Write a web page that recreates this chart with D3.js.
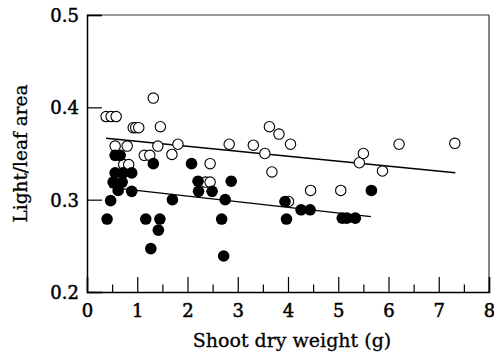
<!DOCTYPE html>
<html><head><meta charset="utf-8">
<script src="https://cdn.jsdelivr.net/npm/d3@7/dist/d3.min.js"></script>
<style>body{margin:0;background:#fff}svg{display:block}</style>
</head><body>
<script>
// Open circles (upper group)
const openX = [0.38,0.48,0.58,1.32,0.92,0.97,1.03,1.46,0.56,0.80,1.41,1.81,1.14,1.25,1.69,0.73,0.83,2.45,2.36,2.45,2.83,3.31,3.54,3.63,3.82,4.05,3.68,4.01,4.45,5.05,5.42,5.50,5.88,6.21,7.32];
const openY = [0.390,0.390,0.390,0.410,0.378,0.378,0.378,0.379,0.358,0.358,0.358,0.360,0.348,0.348,0.349,0.338,0.338,0.339,0.319,0.319,0.360,0.359,0.350,0.379,0.371,0.360,0.330,0.298,0.310,0.310,0.340,0.350,0.331,0.360,0.361];
// Filled circles (lower group)
const fillX = [0.56,0.66,1.32,2.08,0.56,0.72,0.89,0.52,0.70,0.62,0.89,0.47,0.40,1.17,1.45,1.42,1.27,1.70,2.21,2.22,2.49,2.87,2.75,2.68,2.72,3.94,3.97,4.26,4.44,5.08,5.17,5.34,5.66];
const fillY = [0.348,0.348,0.339,0.339,0.329,0.329,0.329,0.319,0.319,0.310,0.309,0.299,0.279,0.279,0.279,0.267,0.247,0.300,0.320,0.309,0.309,0.320,0.300,0.279,0.239,0.298,0.279,0.289,0.289,0.280,0.280,0.280,0.310];
// Regression lines [x0, x1], [y0, y1]
const openFitX = [0.38, 7.33], openFitY = [0.3665, 0.3292];
const fillFitX = [0.45, 5.65], fillFitY = [0.3133, 0.2816];
const xTicks = [0,1,2,3,4,5,6,7,8];
const xMinor = [0.5,1.5,2.5,3.5,4.5,5.5,6.5,7.5];
const yTicks = [0.2,0.3,0.4,0.5];

const W = 494, H = 356;
const L = 87, R = 489, T = 15, B = 292;
const svg = d3.select("body").append("svg").attr("width", W).attr("height", H);
const x = d3.scaleLinear().domain([0, 8]).range([L, R]);
const y = d3.scaleLinear().domain([0.2, 0.5]).range([B, T]);
const font = "'DejaVu Serif', serif";

// frame top/right
svg.append("line").attr("x1", L).attr("x2", R).attr("y1", T).attr("y2", T).attr("stroke", "#333").attr("stroke-width", 1.2);
svg.append("line").attr("x1", R).attr("x2", R).attr("y1", T).attr("y2", B).attr("stroke", "#333").attr("stroke-width", 1.2);

// x axis
const xa = svg.append("g").attr("transform", `translate(0,${B})`)
  .call(d3.axisBottom(x).tickValues(xTicks).tickFormat(d3.format("d")).tickSize(-15).tickPadding(26));
const xm = svg.append("g").attr("transform", `translate(0,${B})`)
  .call(d3.axisBottom(x).tickValues(xMinor).tickFormat("").tickSize(-7.5));
xm.select(".domain").remove();
// y axis
const ya = svg.append("g").attr("transform", `translate(${L},0)`)
  .call(d3.axisLeft(y).tickValues(yTicks).tickFormat(d3.format(".1f")).tickSize(-15).tickPadding(23));
[xa, xm, ya].forEach(g => {
  g.selectAll("path.domain").attr("stroke", "#000").attr("stroke-width", 1.5);
  g.selectAll(".tick line").attr("stroke", "#000").attr("stroke-width", 1.2);
});
xa.selectAll("text").attr("font-family", font).attr("font-size", 18).attr("fill", "#000")
  .attr("stroke", "#000").attr("stroke-width", 0.5).attr("dy", 0).attr("y", 25);
ya.selectAll("text").attr("font-family", font).attr("font-size", 18).attr("fill", "#000")
  .attr("stroke", "#000").attr("stroke-width", 0.5).attr("x", -8).attr("dy", "0.36em");

// regression lines
const line = d3.line().x(d => x(d[0])).y(d => y(d[1]));
svg.append("path").attr("d", line(d3.zip(openFitX, openFitY))).attr("stroke", "#000").attr("stroke-width", 1.4).attr("fill", "none");
svg.append("path").attr("d", line(d3.zip(fillFitX, fillFitY))).attr("stroke", "#000").attr("stroke-width", 1.4).attr("fill", "none");

// points
svg.append("g").selectAll("circle").data(d3.zip(openX, openY)).join("circle")
  .attr("cx", d => x(d[0])).attr("cy", d => y(d[1])).attr("r", 5.2)
  .attr("fill", "#fff").attr("stroke", "#000").attr("stroke-width", 1.1);
svg.append("g").selectAll("circle").data(d3.zip(fillX, fillY)).join("circle")
  .attr("cx", d => x(d[0])).attr("cy", d => y(d[1])).attr("r", 5.8)
  .attr("fill", "#000");

// axis titles
svg.append("text").attr("x", (L + R) / 2 + 4).attr("y", 347).attr("text-anchor", "middle")
  .attr("font-family", font).attr("font-size", 19).attr("stroke", "#000").attr("stroke-width", 0.3)
  .text("Shoot dry weight (g)");
svg.append("text").attr("transform", `translate(27,${(T + B) / 2}) rotate(-90)`).attr("text-anchor", "middle")
  .attr("font-family", font).attr("font-size", 18.5).attr("stroke", "#000").attr("stroke-width", 0.3)
  .text("Light/leaf area");
</script>
</body></html>
